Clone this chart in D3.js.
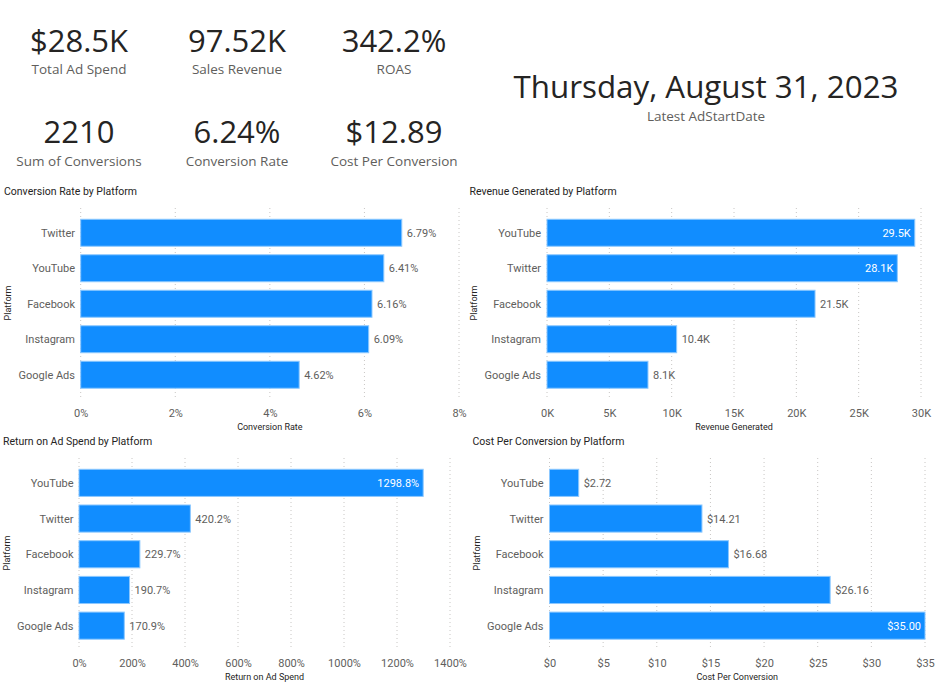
<!DOCTYPE html>
<html>
<head>
<meta charset="utf-8">
<script src="https://cdn.jsdelivr.net/npm/d3@7"></script>
<style>
 html,body{margin:0;padding:0;background:#fff;}
 svg{display:block;}
</style>
</head>
<body>
<svg id="dash" width="936" height="687"></svg>
<script>
// ---- data ----
var kpiValues=["$28.5K","97.52K","342.2%","2210","6.24%","$12.89"];
var kpiLabels=["Total Ad Spend","Sales Revenue","ROAS","Sum of Conversions","Conversion Rate","Cost Per Conversion"];
var dateText="Thursday, August 31, 2023";
var dateLabel="Latest AdStartDate";

var convPlatforms=["Twitter","YouTube","Facebook","Instagram","Google Ads"];
var convRate=[6.79,6.41,6.16,6.09,4.62];
var convTicks=[0,2,4,6,8];

var revPlatforms=["YouTube","Twitter","Facebook","Instagram","Google Ads"];
var revenue=[29500,28100,21500,10400,8100];
var revTicks=[0,5000,10000,15000,20000,25000,30000];

var roasPlatforms=["YouTube","Twitter","Facebook","Instagram","Google Ads"];
var roas=[1298.8,420.2,229.7,190.7,170.9];
var roasTicks=[0,200,400,600,800,1000,1200,1400];

var cpcPlatforms=["YouTube","Twitter","Facebook","Instagram","Google Ads"];
var cpc=[2.72,14.21,16.68,26.16,35.00];
var cpcTicks=[0,5,10,15,20,25,30,35];

var svg=d3.select("#dash");
var kpiFont="'Segoe UI','Open Sans',sans-serif";
var chartFont="Roboto,'DejaVu Sans Condensed',sans-serif";
var barColor="#118DFF";

// ---- KPI cards ----
var kpiX=[79,237,394],kpiY=[51.5,143.3],kpiLY=[74,165.7];
kpiValues.forEach(function(v,i)
{
 var col=i%3,row=Math.floor(i/3);
 svg.append("text").attr("x",kpiX[col]).attr("y",kpiY[row]).attr("text-anchor","middle")
  .style("font-family",kpiFont).style("font-size","31px").style("fill","#252423").text(v);
 svg.append("text").attr("x",kpiX[col]).attr("y",kpiLY[row]).attr("text-anchor","middle")
  .style("font-family",kpiFont).style("font-size","13.5px").style("fill","#605E5C").text(kpiLabels[i]);
});

var dt=svg.append("text").attr("x",706).attr("y",97.5).attr("text-anchor","middle")
 .style("font-family",kpiFont).style("font-size","36px").style("fill","#252423").text(dateText);
var w=dt.node().getComputedTextLength();
dt.style("font-size",(36*385/w).toFixed(2)+"px");
svg.append("text").attr("x",706).attr("y",121).attr("text-anchor","middle")
 .style("font-family",kpiFont).style("font-size","13.5px").style("fill","#605E5C").text(dateLabel);

// ---- bar chart panels ----
function barChart(o)
{
 var g=svg.append("g").attr("transform","translate(0,"+o.oy+")");
 var x=d3.scaleLinear().domain([0,o.max]).range([o.x0,o.x1]);
 var y=d3.scaleBand().domain(o.cats).range(o.band).paddingInner(0.24).paddingOuter(0.12);

 g.append("text").attr("x",o.titleX).attr("y",195).style("font-family",chartFont)
  .style("font-size","10.5px").style("font-weight","400").style("fill","#252423").text(o.title);

 g.selectAll("line.grid").data(o.ticks).enter().append("line").attr("class","grid")
  .attr("x1",function(d){return x(d);}).attr("x2",function(d){return x(d);})
  .attr("y1",208).attr("y2",398)
  .style("stroke","#C8C6C4").style("stroke-width",1).style("stroke-dasharray","1,3");

 var ax=g.append("g").attr("transform","translate(0,406)")
  .call(d3.axisBottom(x).tickValues(o.ticks).tickSize(0).tickFormat(o.tickFmt));
 ax.select(".domain").remove();
 ax.selectAll("text").style("font-family",chartFont).style("font-size","11px").style("fill","#605E5C");

 g.append("text").attr("x",(o.x0+o.x1)/2).attr("y",430).attr("text-anchor","middle")
  .style("font-family",chartFont).style("font-size","9px").style("font-weight","400")
  .style("fill","#252423").text(o.axisTitle);

 g.append("text").attr("transform","translate("+(o.platX+3)+",303) rotate(-90)")
  .attr("text-anchor","middle").style("font-family",chartFont).style("font-size","9px")
  .style("font-weight","400").style("fill","#252423").text("Platform");

 g.selectAll("text.cat").data(o.cats).enter().append("text").attr("class","cat")
  .attr("x",o.catX).attr("y",function(d){return y(d)+y.bandwidth()/2+4;})
  .attr("text-anchor","end").style("font-family",chartFont).style("font-size","11px")
  .style("fill","#605E5C").text(function(d){return d;});

 g.selectAll("rect.bar").data(o.vals).enter().append("rect").attr("class","bar")
  .attr("x",x(0)).attr("y",function(d,i){return y(o.cats[i]);})
  .attr("width",function(d){return x(d)-x(0);}).attr("height",y.bandwidth())
  .style("fill",barColor).style("stroke","#8CC8FF").style("stroke-width",1);

 g.selectAll("text.val").data(o.vals).enter().append("text").attr("class","val")
  .attr("y",function(d,i){return y(o.cats[i])+y.bandwidth()/2+4;})
  .style("font-family",chartFont).style("font-size","11px")
  .text(function(d){return o.valFmt(d);})
  .each(function(d)
  {
   var t=d3.select(this),tw=this.getComputedTextLength();
   if(x(d)+5+tw>o.x1)
    t.attr("x",x(d)-4).attr("text-anchor","end").style("fill","#FFFFFF");
   else
    t.attr("x",x(d)+5).attr("text-anchor","start").style("fill","#605E5C");
  });
}

barChart({oy:0,title:"Conversion Rate by Platform",titleX:4,axisTitle:"Conversion Rate",
 cats:convPlatforms,vals:convRate,ticks:convTicks,max:8,x0:80.7,x1:459,band:[215,392.5],
 catX:75,platX:8,tickFmt:function(d){return d+"%";},valFmt:function(d){return d.toFixed(2)+"%";}});

barChart({oy:0,title:"Revenue Generated by Platform",titleX:469.5,axisTitle:"Revenue Generated",
 cats:revPlatforms,vals:revenue,ticks:revTicks,max:30000,x0:547,x1:921,band:[215,392.5],
 catX:541,platX:474,tickFmt:function(d){return (d/1000)+"K";},valFmt:function(d){return (d/1000).toFixed(1)+"K";}});

barChart({oy:250,title:"Return on Ad Spend by Platform",titleX:3,axisTitle:"Return on Ad Spend",
 cats:roasPlatforms,vals:roas,ticks:roasTicks,max:1400,x0:79,x1:450,band:[215,393.5],
 catX:73.5,platX:6.5,tickFmt:function(d){return d+"%";},valFmt:function(d){return d.toFixed(1)+"%";}});

barChart({oy:250,title:"Cost Per Conversion by Platform",titleX:472.5,axisTitle:"Cost Per Conversion",
 cats:cpcPlatforms,vals:cpc,ticks:cpcTicks,max:35,x0:549.5,x1:925,band:[215,393.5],
 catX:543.5,platX:476.5,tickFmt:function(d){return "$"+d;},valFmt:function(d){return "$"+d.toFixed(2);}});
</script>
</body>
</html>
